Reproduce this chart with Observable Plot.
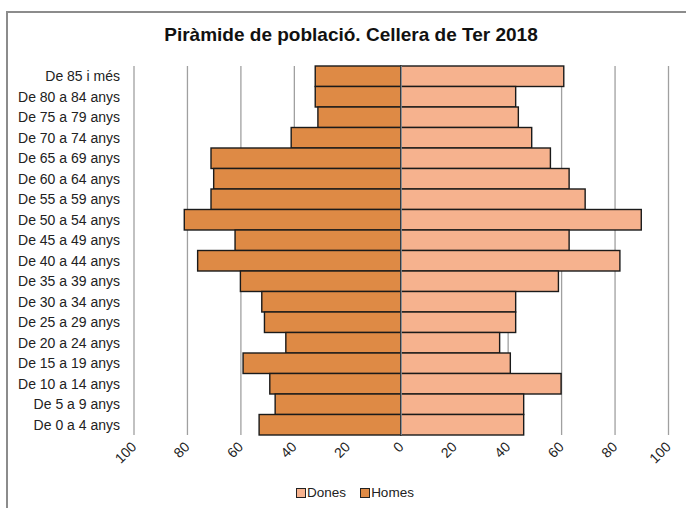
<!DOCTYPE html>
<html>
<head>
<meta charset="utf-8">
<script src="https://cdn.jsdelivr.net/npm/d3@7"></script>
<script src="https://cdn.jsdelivr.net/npm/@observablehq/plot@0.6"></script>
<style>
  html, body { margin: 0; padding: 0; background: #fff; overflow: hidden; }
  #wrap { position: relative; width: 686px; height: 508px; font-family: "Liberation Sans", Arial, sans-serif; }
  #frame { position: absolute; left: 6px; top: 11px; width: 700px; height: 520px; border: 2px solid #8c8c8c; box-sizing: border-box; }
  #title { position: absolute; left: 0; top: 24px; width: 702px; text-align: center; font-size: 19px; font-weight: bold; line-height: 22px; color: #111; }
  #chart { position: absolute; left: 0; top: 46px; width: 686px; height: 430px; }
  #chart svg { display: block; }
  #legend { position: absolute; left: 0; top: 484px; width: 710px; text-align: center; font-size: 13.5px; color: #222; line-height: 18px; }
  .sw { display: inline-block; width: 8px; height: 8px; border: 1.5px solid #222; vertical-align: -1px; margin-right: 1px; }
  .item { margin: 0 7px; }
</style>
</head>
<body>
<div id="wrap">
  <div id="frame"></div>
  <div id="title">Piràmide de població. Cellera de Ter 2018</div>
  <div id="chart"></div>
  <div id="legend"></div>
</div>
<script>
const ageGroups = ["De 85 i més","De 80 a 84 anys","De 75 a 79 anys","De 70 a 74 anys","De 65 a 69 anys","De 60 a 64 anys","De 55 a 59 anys","De 50 a 54 anys","De 45 a 49 anys","De 40 a 44 anys","De 35 a 39 anys","De 30 a 34 anys","De 25 a 29 anys","De 20 a 24 anys","De 15 a 19 anys","De 10 a 14 anys","De 5 a 9 anys","De 0 a 4 anys"];
const homes = [32, 32, 31, 41, 71, 70, 71, 81, 62, 76, 60, 52, 51, 43, 59, 49, 47, 53];
const dones = [61, 43, 44, 49, 56, 63, 69, 90, 63, 82, 59, 43, 43, 37, 41, 60, 46, 46];
const xTicks = [-100, -80, -60, -40, -20, 0, 20, 40, 60, 80, 100];
const seriesNames = ["Dones", "Homes"];
const seriesColors = ["#F6B28E", "#DE8A45"];

const rows = [];
ageGroups.forEach((g, i) => {
  rows.push({age: g, sex: "Homes", v: -homes[i]});
  rows.push({age: g, sex: "Dones", v: dones[i]});
});

const chart = Plot.plot({
  width: 686,
  height: 430,
  marginLeft: 133.5,
  marginRight: 18,
  marginTop: 20,
  marginBottom: 41,
  style: {fontFamily: '"Liberation Sans", Arial, sans-serif', fontSize: "14px", color: "#222", background: "transparent"},
  x: {domain: [-100, 100], label: null},
  y: {domain: ageGroups, padding: 0, round: false, label: null},
  color: {domain: seriesNames, range: seriesColors},
  marks: [
    Plot.ruleX(xTicks, {stroke: "#a0a0a0", strokeWidth: 1.3}),
    Plot.barX(rows, {y: "age", x1: 0, x2: "v", fill: "sex", stroke: "#1a1a1a", strokeWidth: 1.4}),
    Plot.ruleX([0], {stroke: "#8a9aa8", strokeWidth: 1}),
    Plot.axisX({ticks: xTicks, tickFormat: d => Math.abs(d), tickRotate: -45, tickSize: 0, tickPadding: 9, label: null, fontSize: 14}),
    Plot.axisY({tickSize: 0, tickPadding: 14, label: null, fontSize: 14})
  ]
});
document.getElementById("chart").appendChild(chart);

const legend = document.getElementById("legend");
seriesNames.forEach((n, i) => {
  const s = document.createElement("span");
  s.className = "item";
  s.innerHTML = `<span class="sw" style="background:${seriesColors[i]}"></span>${n}`;
  legend.appendChild(s);
});
</script>
</body>
</html>
